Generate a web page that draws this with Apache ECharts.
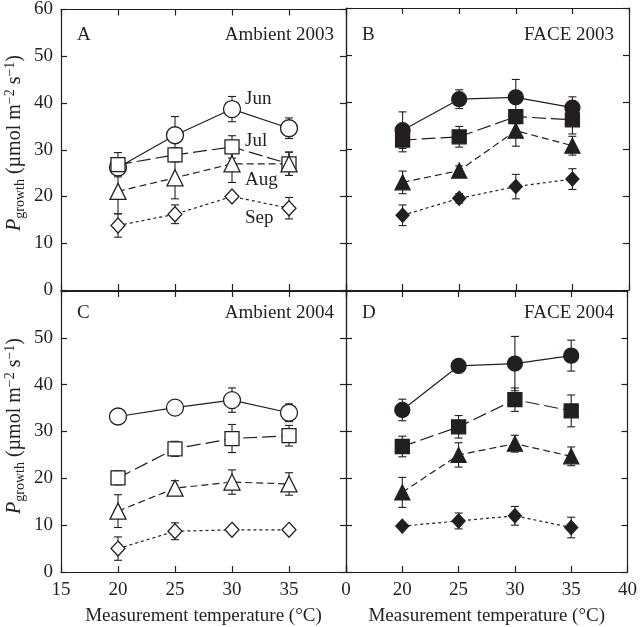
<!DOCTYPE html>
<html><head><meta charset="utf-8">
<script src="https://cdn.jsdelivr.net/npm/echarts@6/dist/echarts.min.js"></script>
<style>html,body{margin:0;padding:0;background:#fff}#c{width:640px;height:627px}</style>
</head><body><div id="c"></div>
<script>
const temps = [20, 25, 30, 35];
const months = ['Jun', 'Jul', 'Aug', 'Sep'];
const xTicks = [15, 20, 25, 30, 35, 40];
const yTicks = [0, 10, 20, 30, 40, 50, 60];

// Panel A: Ambient 2003 (rows: Jun, Jul, Aug, Sep)
const amb03Mean = [[26.2, 33.1, 38.7, 34.6], [26.8, 28.9, 30.6, 27.0], [21.1, 24.0, 27.0, 27.0], [13.8, 16.2, 20.0, 17.5]];
const amb03Err  = [[1.5, 4.0, 2.7, 2.2], [2.6, 1.5, 2.4, 2.5], [4.8, 4.5, 4.0, 2.5], [2.5, 2.0, 0.8, 2.3]];
// Panel B: FACE 2003
const face03Mean = [[34.0, 40.6, 41.0, 38.8], [31.9, 32.6, 36.9, 36.2], [22.9, 25.4, 33.9, 30.7], [15.9, 19.5, 22.0, 23.6]];
const face03Err  = [[3.9, 2.0, 3.8, 2.3], [2.5, 2.2, 1.5, 3.0], [2.4, 1.0, 3.3, 2.0], [2.2, 1.0, 2.6, 2.2]];
// Panel C: Ambient 2004
const amb04Mean = [[33.2, 35.1, 36.7, 34.0], [20.1, 26.3, 28.5, 29.1], [13.0, 17.9, 19.2, 18.8], [5.0, 8.7, 9.0, 9.0]];
const amb04Err  = [[0.5, 0.5, 2.6, 1.9], [1.5, 1.6, 3.0, 2.2], [3.5, 1.6, 2.6, 2.4], [2.5, 1.8, 0.5, 0.5]];
// Panel D: FACE 2004
const face04Mean = [[34.6, 44.0, 44.5, 46.2], [26.8, 31.0, 36.8, 34.4], [17.0, 25.0, 27.4, 24.7], [9.8, 10.9, 12.0, 9.5]];
const face04Err  = [[2.3, 0.5, 5.8, 3.3], [2.2, 2.4, 2.5, 3.4], [3.2, 2.6, 1.8, 2.0], [0.5, 1.7, 2.0, 2.2]];

const panelTitles = ['Ambient 2003', 'FACE 2003', 'Ambient 2004', 'FACE 2004'];
const panelLetters = ['A', 'B', 'C', 'D'];

const FONT = '"Liberation Serif", "Times New Roman", serif';
const FS = 19;
const INK = '#231f20';
const panels = [
  {mean: amb03Mean, err: amb03Err, filled: false},
  {mean: face03Mean, err: face03Err, filled: true},
  {mean: amb04Mean, err: amb04Err, filled: false},
  {mean: face04Mean, err: face04Err, filled: true}
];
const grids = [
  {left: 61, top: 8, width: 285, height: 282},
  {left: 346, top: 8, width: 283, height: 282},
  {left: 61, top: 291, width: 285, height: 282},
  {left: 346, top: 291, width: 283, height: 282}
];
const symbols = ['circle', 'rect', 'triangle', 'diamond'];
const openSizes = [17, 14, 16, [14, 15]];
const fillSizes = [15, 14, 15, [13, 14]];
const dashes = ['solid', [14, 5], [7, 4], [3, 3]];

function axisBase(extra) {
  return Object.assign({
    type: 'value', axisLine: {show: true, onZero: false, lineStyle: {color: INK, width: 1.2}},
    axisTick: {show: true, inside: true, length: 6, lineStyle: {color: INK, width: 1.2}},
    splitLine: {show: false}, axisLabel: {show: false}
  }, extra);
}

const xAxes = [], yAxes = [], series = [];
panels.forEach((p, i) => {
  const bottomRow = i >= 2, leftCol = i % 2 === 0;
  xAxes.push(axisBase({
    gridIndex: i, position: 'bottom', min: 15, max: 40, interval: 5,
    axisLabel: {show: bottomRow, fontFamily: FONT, fontSize: FS, color: INK, margin: 9,
      formatter: v => leftCol ? (v === 40 ? '0' : String(v)) : (v === 15 ? '' : String(v))},
    name: bottomRow ? 'Measurement temperature (°C)' : '', nameLocation: 'middle', nameGap: 35,
    nameTextStyle: {fontFamily: FONT, fontSize: FS, color: INK}
  }));
  xAxes.push(axisBase({gridIndex: i, position: 'top', min: 15, max: 40, interval: 5}));
  yAxes.push(axisBase({
    gridIndex: i, position: 'left', min: 0, max: 60, interval: 10,
    axisLabel: {show: leftCol, fontFamily: FONT, fontSize: FS, color: INK, margin: 8,
      formatter: v => (bottomRow && v === 60) ? '' : String(v)}
  }));
  yAxes.push(axisBase({gridIndex: i, position: 'right', min: 0, max: 60, interval: 10}));

  p.mean.forEach((row, k) => {
    series.push({
      type: 'custom', xAxisIndex: 2 * i, yAxisIndex: 2 * i, z: 1,
      data: temps.map((t, j) => [t, row[j] - p.err[k][j], row[j] + p.err[k][j]]),
      encode: {x: 0, y: [1, 2]},
      renderItem: (params, api) => {
        const x = api.value(0);
        const lo = api.coord([x, api.value(1)]);
        const hi = api.coord([x, api.value(2)]);
        const w = 4, st = {stroke: INK, lineWidth: 1.1};
        return {type: 'group', children: [
          {type: 'line', shape: {x1: lo[0], y1: lo[1], x2: hi[0], y2: hi[1]}, style: st},
          {type: 'line', shape: {x1: lo[0] - w, y1: lo[1], x2: lo[0] + w, y2: lo[1]}, style: st},
          {type: 'line', shape: {x1: hi[0] - w, y1: hi[1], x2: hi[0] + w, y2: hi[1]}, style: st}
        ]};
      }
    });
    series.push({
      type: 'line', name: months[k], xAxisIndex: 2 * i, yAxisIndex: 2 * i, z: 3,
      data: temps.map((t, j) => [t, row[j]]),
      symbol: symbols[k], symbolSize: p.filled ? fillSizes[k] : openSizes[k],
      showAllSymbol: true,
      lineStyle: {color: INK, width: 1.2, type: dashes[k]},
      itemStyle: {color: p.filled ? INK : '#fff', borderColor: INK, borderWidth: 1.3},
      emphasis: {disabled: true}
    });
  });
});

const labelStyle = {fontFamily: FONT, fontSize: FS, fill: INK};
const graphic = [];
const letterPos = [[77, 35], [362, 35], [77, 313], [362, 313]];
const titlePos = [[334, 35], [614, 35], [334, 313], [614, 313]];
panelLetters.forEach((L, i) => {
  graphic.push({type: 'text', x: letterPos[i][0], y: letterPos[i][1],
    style: Object.assign({text: L, align: 'left', verticalAlign: 'middle'}, labelStyle)});
  graphic.push({type: 'text', x: titlePos[i][0], y: titlePos[i][1],
    style: Object.assign({text: panelTitles[i], align: 'right', verticalAlign: 'middle'}, labelStyle)});
});
const monthLabelPos = [[245, 99], [245, 141], [245, 180], [245, 218]];
months.forEach((m, k) => {
  graphic.push({type: 'text', x: monthLabelPos[k][0], y: monthLabelPos[k][1],
    style: Object.assign({text: m, align: 'left', verticalAlign: 'middle'}, labelStyle)});
});
const yTitleRich = {
  i: {fontFamily: FONT, fontSize: 20, fontStyle: 'italic', fill: INK, lineHeight: 24, verticalAlign: 'middle'},
  sub: {fontFamily: FONT, fontSize: 14, fill: INK, lineHeight: 24, verticalAlign: 'bottom'},
  n: {fontFamily: FONT, fontSize: 20, fill: INK, lineHeight: 24, verticalAlign: 'middle'},
  sup: {fontFamily: FONT, fontSize: 14, fill: INK, lineHeight: 24, verticalAlign: 'top'}
};
[143, 426].forEach(cy => {
  graphic.push({type: 'text', x: 15, y: cy, rotation: Math.PI / 2,
    style: {text: '{i|P}{sub|growth}{n| (µmol m}{sup|−2}{n| s}{sup|−1}{n|)}', rich: yTitleRich,
      align: 'center', verticalAlign: 'middle'}});
});

const chart = echarts.init(document.getElementById('c'), null, {renderer: 'canvas'});
chart.setOption({
  animation: false, backgroundColor: '#fff',
  grid: grids, xAxis: xAxes, yAxis: yAxes, series: series, graphic: graphic
});
</script></body></html>
